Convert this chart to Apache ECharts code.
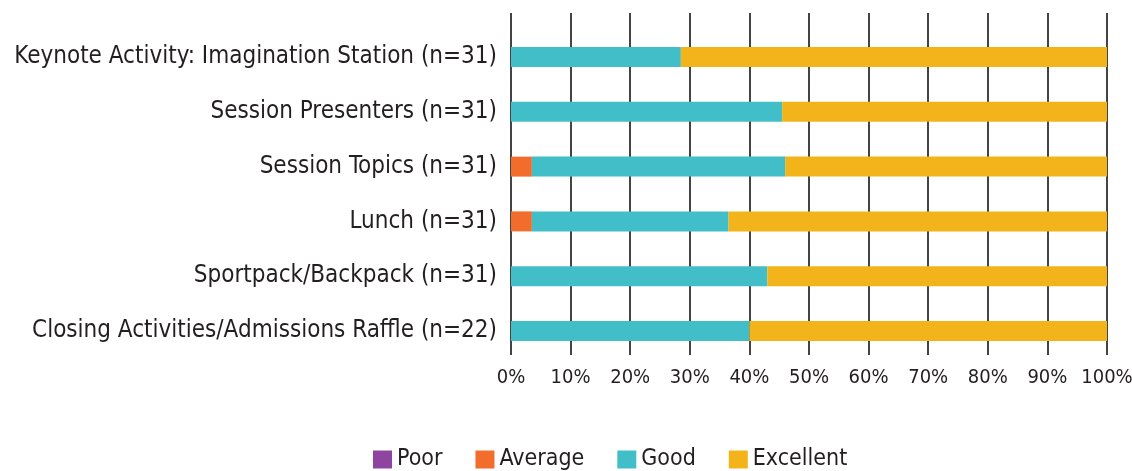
<!DOCTYPE html>
<html>
<head>
<meta charset="utf-8">
<title>Session ratings</title>
<script src="https://cdn.jsdelivr.net/npm/echarts@6.0.0/dist/echarts.min.js"></script>
<style>
    html, body { margin: 0; padding: 0; background: #fff; }
    #main { width: 1132px; height: 471px; }
</style>
</head>
<body>
<div id="main"></div>
<script>
    var myChart = echarts.init(document.getElementById('main'));

    var categories = [
        'Keynote Activity: Imagination Station (n=31)',
        'Session Presenters (n=31)',
        'Session Topics (n=31)',
        'Lunch (n=31)',
        'Sportpack/Backpack (n=31)',
        'Closing Activities/Admissions Raffle (n=22)'
    ];
    var seriesNames = ['Poor', 'Average', 'Good', 'Excellent'];
    // percent of responses
    var poor = [0, 0, 0, 0, 0, 0];
    var average = [0, 0, 3.5, 3.5, 0, 0];
    var good = [28.5, 45.5, 42.5, 33, 43, 40];
    var excellent = [71.5, 54.5, 54, 63.5, 57, 60];
    var xTicks = [0, 10, 20, 30, 40, 50, 60, 70, 80, 90, 100];

    // style
    var style = {
        font: "'Liberation Sans Narrow', 'DejaVu Sans Condensed', 'Roboto Condensed', sans-serif",
        textColor: '#231f20',
        lineColor: '#444',
        colors: ['#8f45a0', '#f26c2b', '#41bec7', '#f3b41b']
    };

    var values = [poor, average, good, excellent];
    var series = [];
    for (var i = 0; i < seriesNames.length; i++) {
        series.push({
            name: seriesNames[i],
            type: 'bar',
            stack: 'total',
            xAxisIndex: 1,
            yAxisIndex: 1,
            barWidth: 20,
            itemStyle: { color: style.colors[i] },
            data: values[i]
        });
    }

    var option = {
        animation: false,
        color: style.colors,
        legend: {
            data: seriesNames,
            left: 368,
            top: 443,
            itemWidth: 19,
            itemHeight: 18,
            itemGap: 33,
            icon: 'rect',
            textStyle: {
                fontFamily: style.font,
                fontSize: 23,
                color: style.textColor
            }
        },
        grid: [
            // grid lines
            { left: 511, right: 25, top: 13, bottom: 116, outerBoundsMode: 'none' },
            // bars
            { left: 511, right: 25, top: 29.6, bottom: 112.6, outerBoundsMode: 'none' }
        ],
        xAxis: [
            {
                gridIndex: 0,
                type: 'value',
                min: xTicks[0],
                max: xTicks[xTicks.length - 1],
                interval: 10,
                axisLine: { show: false },
                axisTick: { show: false },
                splitLine: { show: true, lineStyle: { color: style.lineColor, width: 2 } },
                axisLabel: {
                    formatter: '{value}%',
                    margin: 13,
                    fontFamily: style.font,
                    fontSize: 20,
                    color: style.textColor
                }
            },
            {
                gridIndex: 1,
                type: 'value',
                min: 0,
                max: 100,
                show: false
            }
        ],
        yAxis: [
            {
                gridIndex: 0,
                type: 'category',
                data: categories,
                show: false
            },
            {
                gridIndex: 1,
                type: 'category',
                inverse: true,
                data: categories,
                axisLine: { show: false },
                axisTick: { show: false },
                axisLabel: {
                    margin: 14,
                    fontFamily: style.font,
                    fontSize: 24,
                    color: style.textColor
                }
            }
        ],
        series: series
    };
    myChart.setOption(option);
</script>
</body>
</html>
